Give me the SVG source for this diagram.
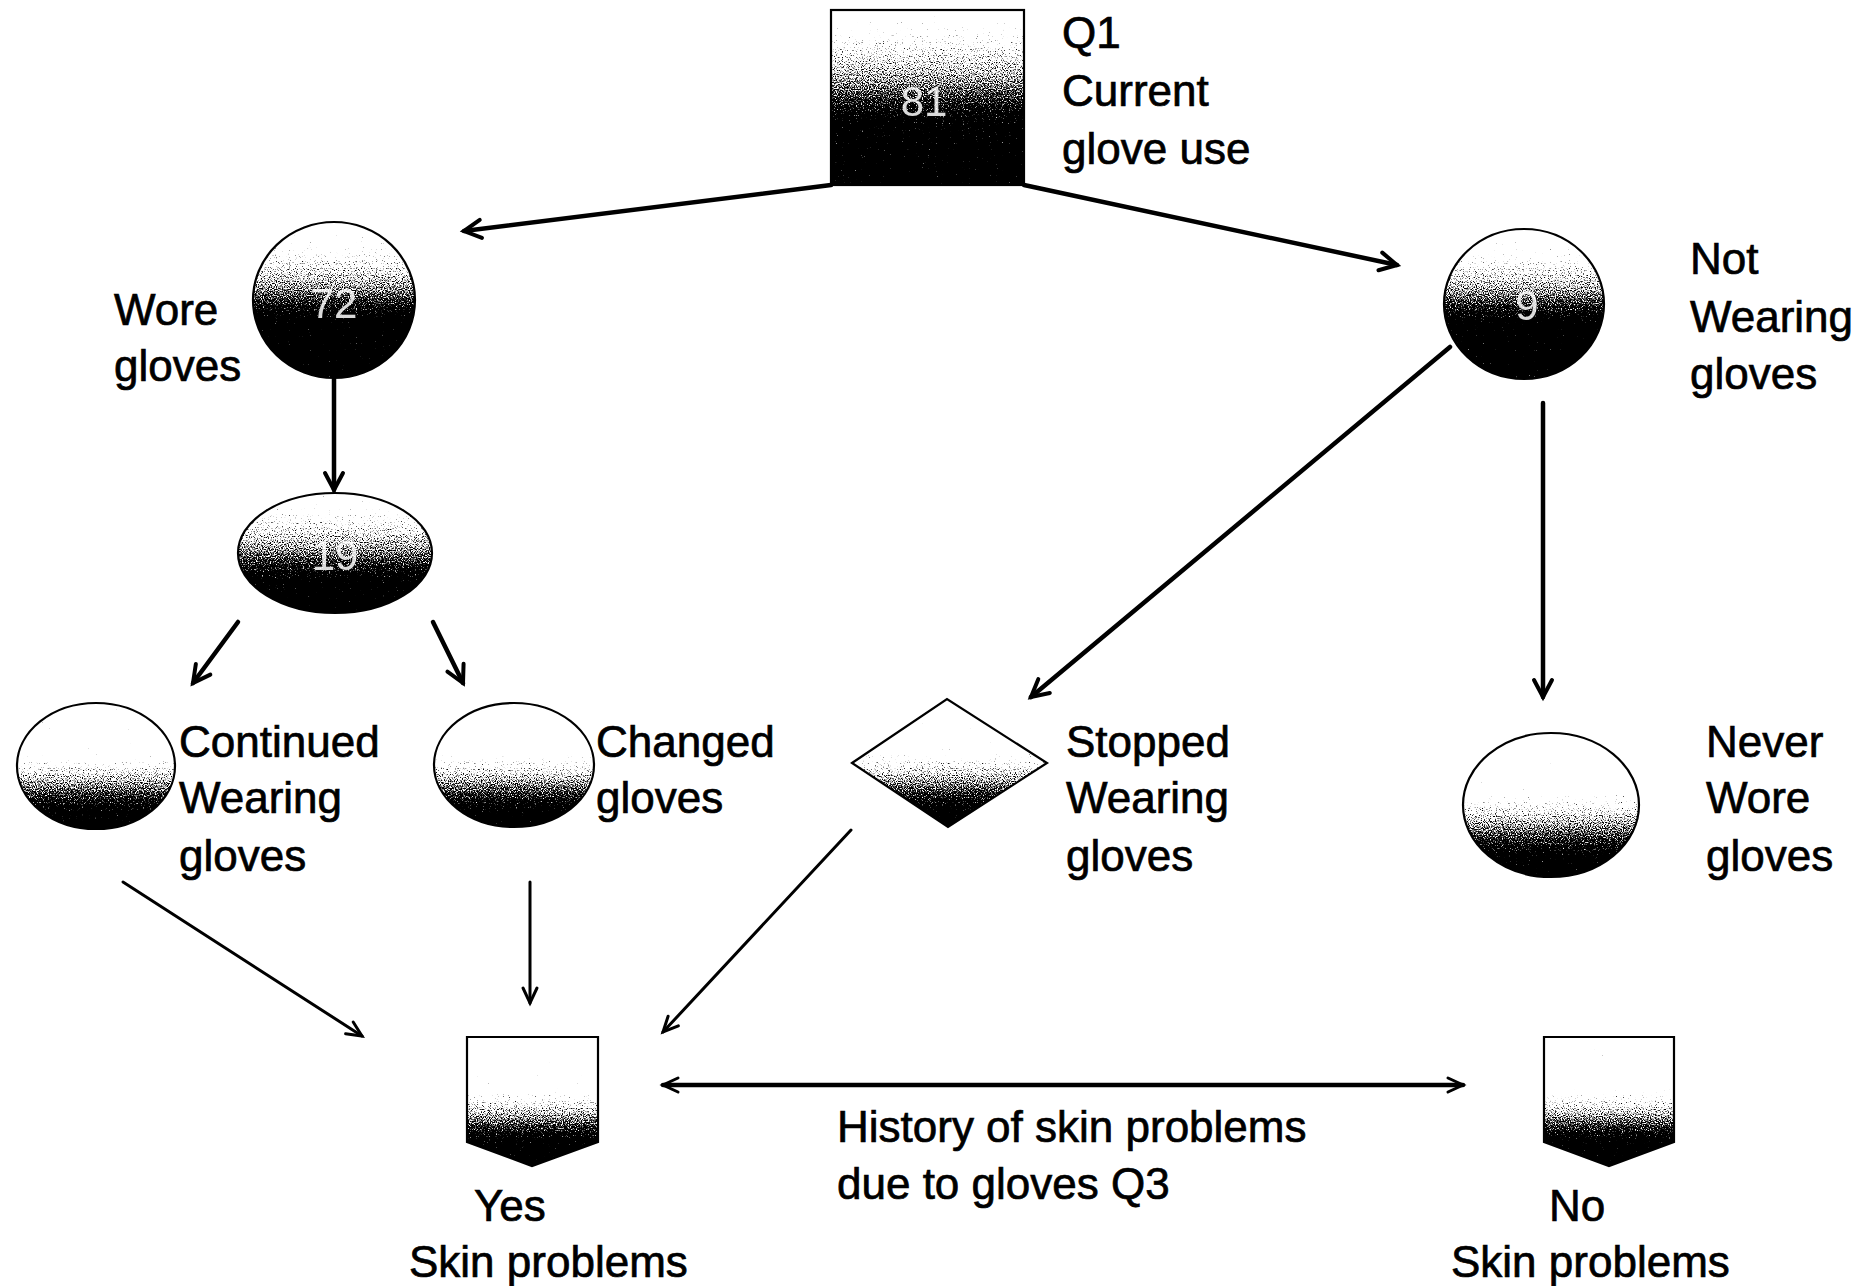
<svg xmlns="http://www.w3.org/2000/svg" width="1875" height="1286" viewBox="0 0 1875 1286">
<style>
.t{font-family:"Liberation Sans",Arial,sans-serif;font-size:44px;fill:#000;stroke:#000;stroke-width:0.7}
.num{font-family:"Liberation Sans",Arial,sans-serif;font-size:42px;fill:#fff;text-anchor:middle;opacity:0.85}
.ol{fill:none;stroke:#000;stroke-width:2.2}
.thick{fill:none;stroke:#000;stroke-width:4.5;stroke-linecap:round}
.thin{fill:none;stroke:#000;stroke-width:3;stroke-linecap:round}
</style>
<defs>
<linearGradient id="gQ" x1="0" y1="0" x2="0" y2="1">
<stop offset="0" stop-color="#fff"/><stop offset="0.12" stop-color="#ddd"/><stop offset="0.42" stop-color="#777"/><stop offset="0.64" stop-color="#111"/><stop offset="1" stop-color="#000"/>
</linearGradient>
<linearGradient id="gD" x1="0" y1="0" x2="0" y2="1">
<stop offset="0" stop-color="#fff"/><stop offset="0.15" stop-color="#e4e4e4"/><stop offset="0.43" stop-color="#777"/><stop offset="0.63" stop-color="#080808"/><stop offset="1" stop-color="#000"/>
</linearGradient>
<linearGradient id="gM" x1="0" y1="0" x2="0" y2="1">
<stop offset="0" stop-color="#fff"/><stop offset="0.12" stop-color="#e4e4e4"/><stop offset="0.48" stop-color="#777"/><stop offset="0.74" stop-color="#080808"/><stop offset="1" stop-color="#000"/>
</linearGradient>
<linearGradient id="gL" x1="0" y1="0" x2="0" y2="1">
<stop offset="0" stop-color="#fff"/><stop offset="0.4" stop-color="#f4f4f4"/><stop offset="0.62" stop-color="#888"/><stop offset="0.86" stop-color="#111"/><stop offset="1" stop-color="#000"/>
</linearGradient>
<linearGradient id="gP" x1="0" y1="0" x2="0" y2="1">
<stop offset="0" stop-color="#fff"/><stop offset="0.4" stop-color="#f4f4f4"/><stop offset="0.6" stop-color="#888"/><stop offset="0.8" stop-color="#111"/><stop offset="1" stop-color="#000"/>
</linearGradient>
<filter id="grain" x="0" y="0" width="1" height="1" color-interpolation-filters="sRGB">
<feTurbulence type="fractalNoise" baseFrequency="0.85" numOctaves="1" seed="7" result="n"/>
<feColorMatrix in="n" type="matrix" values="1 0 0 0 0  1 0 0 0 0  1 0 0 0 0  0 0 0 0 1" result="g"/>
<feComposite in="SourceGraphic" in2="g" operator="arithmetic" k1="0" k2="1" k3="1.4" k4="-0.7" result="s"/>
<feComponentTransfer in="s" result="d">
<feFuncR type="linear" slope="4" intercept="-1.3"/>
<feFuncG type="linear" slope="4" intercept="-1.3"/>
<feFuncB type="linear" slope="4" intercept="-1.3"/>
<feFuncA type="linear" slope="0" intercept="1"/>
</feComponentTransfer>
<feComposite in="d" in2="SourceAlpha" operator="in"/>
</filter>
<marker id="ah" viewBox="0 0 24 24" refX="21" refY="12" markerWidth="24" markerHeight="24" markerUnits="userSpaceOnUse" orient="auto-start-reverse" overflow="visible">
<path d="M4,3 L21,12 L4,21" fill="none" stroke="#000" stroke-width="4" stroke-linecap="round" stroke-linejoin="miter"/>
</marker>
<marker id="ahs" viewBox="0 0 24 24" refX="20" refY="12" markerWidth="24" markerHeight="24" markerUnits="userSpaceOnUse" orient="auto-start-reverse" overflow="visible">
<path d="M5,5 L20,12 L5,19" fill="none" stroke="#000" stroke-width="3" stroke-linecap="round"/>
</marker>
</defs>
<rect width="1875" height="1286" fill="#fff"/>

<g id="connectors">
<line class="thick" x1="831" y1="185" x2="464" y2="231" marker-end="url(#ah)"/>
<line class="thick" x1="1024" y1="185" x2="1397" y2="265" marker-end="url(#ah)"/>
<line class="thick" x1="334" y1="379" x2="334" y2="490" marker-end="url(#ah)"/>
<line class="thick" x1="238" y1="622" x2="193" y2="683" marker-end="url(#ah)"/>
<line class="thick" x1="433" y1="622" x2="463" y2="683" marker-end="url(#ah)"/>
<line class="thick" x1="1450" y1="347" x2="1031" y2="697" marker-end="url(#ah)"/>
<line class="thick" x1="1543" y1="403" x2="1543" y2="697" marker-end="url(#ah)"/>
<line class="thin" x1="123" y1="882" x2="362" y2="1036" marker-end="url(#ahs)"/>
<line class="thin" x1="530" y1="882" x2="530" y2="1003" marker-end="url(#ahs)"/>
<line class="thin" x1="851" y1="830" x2="663" y2="1032" marker-end="url(#ahs)"/>
<line class="thick" x1="663" y1="1085" x2="1463" y2="1085" marker-start="url(#ahs)" marker-end="url(#ahs)"/>
</g>

<g id="q1">
<rect x="831" y="10" width="193" height="175" fill="url(#gQ)" filter="url(#grain)"/>
<rect class="ol" x="831" y="10" width="193" height="175"/>
<text class="num" x="924" y="116">81</text>
<text class="t" x="1062" y="48">Q1</text>
<text class="t" x="1062" y="106">Current</text>
<text class="t" x="1062" y="164">glove use</text>
</g>

<g id="wore">
<ellipse cx="334" cy="300" rx="81" ry="78" fill="url(#gD)" filter="url(#grain)"/>
<ellipse class="ol" cx="334" cy="300" rx="81" ry="78"/>
<text class="num" x="334" y="318">72</text>
<text class="t" x="114" y="325">Wore</text>
<text class="t" x="114" y="381">gloves</text>
</g>

<g id="n19">
<ellipse cx="335" cy="553" rx="97" ry="60" fill="url(#gM)" filter="url(#grain)"/>
<ellipse class="ol" cx="335" cy="553" rx="97" ry="60"/>
<text class="num" x="335" y="570">19</text>
</g>

<g id="notwearing">
<ellipse cx="1524" cy="304" rx="80" ry="75" fill="url(#gD)" filter="url(#grain)"/>
<ellipse class="ol" cx="1524" cy="304" rx="80" ry="75"/>
<text class="num" x="1527" y="320">9</text>
<text class="t" x="1690" y="274">Not</text>
<text class="t" x="1690" y="332">Wearing</text>
<text class="t" x="1690" y="389">gloves</text>
</g>

<g id="continued">
<ellipse cx="96" cy="766" rx="79" ry="63" fill="url(#gL)" filter="url(#grain)"/>
<ellipse class="ol" cx="96" cy="766" rx="79" ry="63"/>
<text class="t" x="179" y="757">Continued</text>
<text class="t" x="179" y="813">Wearing</text>
<text class="t" x="179" y="871">gloves</text>
</g>

<g id="changed">
<ellipse cx="514" cy="765" rx="80" ry="62" fill="url(#gL)" filter="url(#grain)"/>
<ellipse class="ol" cx="514" cy="765" rx="80" ry="62"/>
<text class="t" x="596" y="757">Changed</text>
<text class="t" x="596" y="813">gloves</text>
</g>

<g id="stopped">
<polygon points="852,763 947,699 1047,763 948,827" fill="url(#gL)" filter="url(#grain)"/>
<polygon class="ol" points="852,763 947,699 1047,763 948,827"/>
<text class="t" x="1066" y="757">Stopped</text>
<text class="t" x="1066" y="813">Wearing</text>
<text class="t" x="1066" y="871">gloves</text>
</g>

<g id="never">
<ellipse cx="1551" cy="805" rx="88" ry="72" fill="url(#gL)" filter="url(#grain)"/>
<ellipse class="ol" cx="1551" cy="805" rx="88" ry="72"/>
<text class="t" x="1706" y="757">Never</text>
<text class="t" x="1706" y="813">Wore</text>
<text class="t" x="1706" y="871">gloves</text>
</g>

<g id="yes">
<polygon points="467,1037 598,1037 598,1142 532,1166 467,1142" fill="url(#gP)" filter="url(#grain)"/>
<polygon class="ol" points="467,1037 598,1037 598,1142 532,1166 467,1142"/>
<text class="t" x="474" y="1221">Yes</text>
<text class="t" x="409" y="1277">Skin problems</text>
</g>

<g id="no">
<polygon points="1544,1037 1674,1037 1674,1142 1609,1166 1544,1142" fill="url(#gP)" filter="url(#grain)"/>
<polygon class="ol" points="1544,1037 1674,1037 1674,1142 1609,1166 1544,1142"/>
<text class="t" x="1549" y="1221">No</text>
<text class="t" x="1451" y="1277">Skin problems</text>
</g>

<g id="history">
<text class="t" x="837" y="1142">History of skin problems</text>
<text class="t" x="837" y="1199">due to gloves Q3</text>
</g>
</svg>
